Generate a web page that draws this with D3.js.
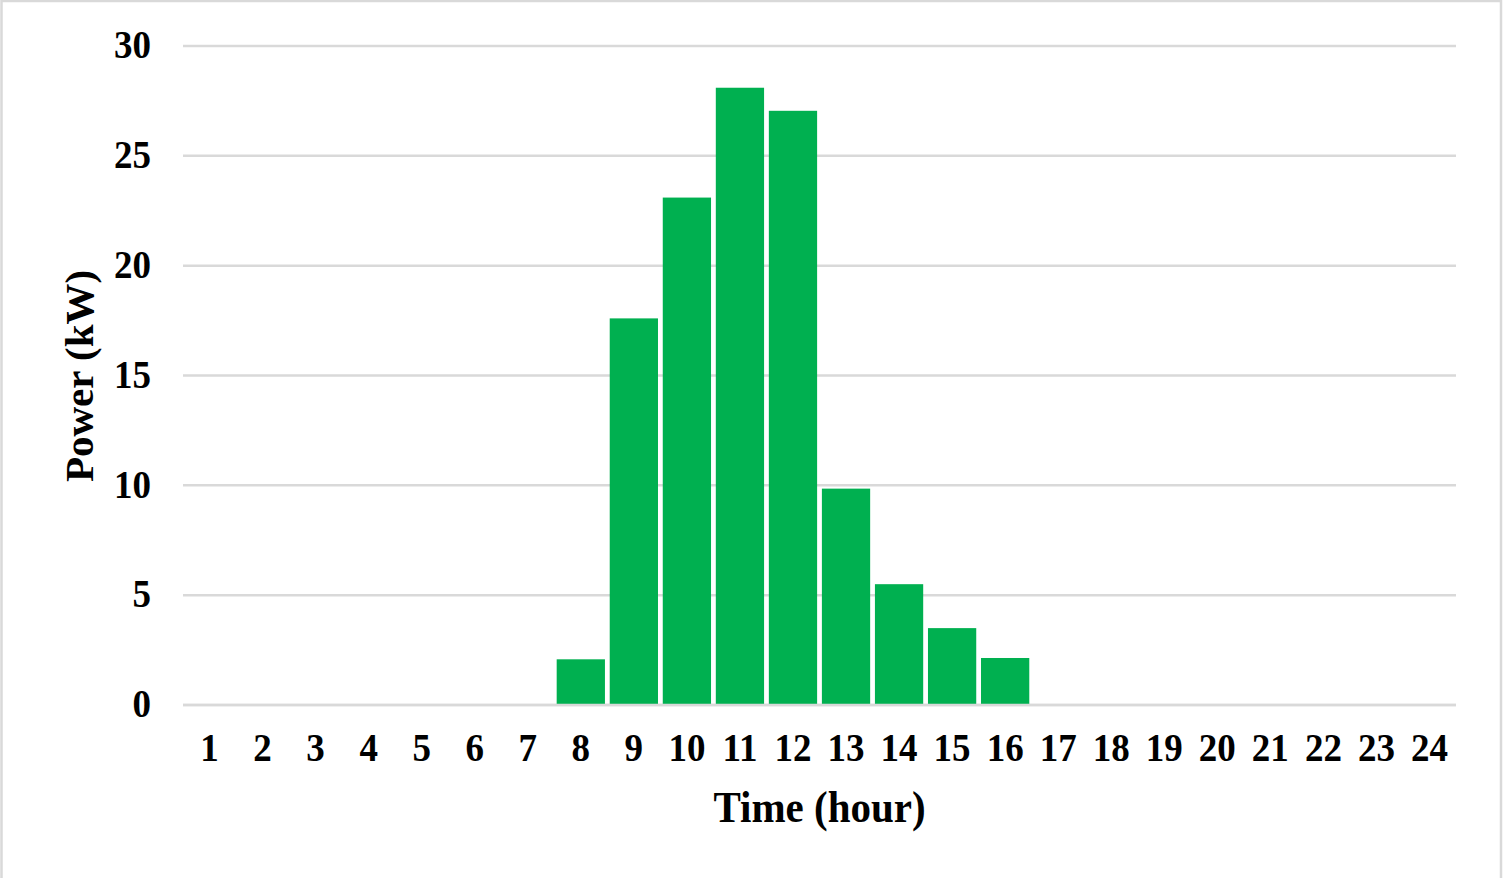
<!DOCTYPE html>
<html>
<head>
<meta charset="utf-8">
<script src="https://cdn.jsdelivr.net/npm/d3@7"></script>
<style>
  html, body { margin: 0; padding: 0; background: #fff; }
  svg { display: block; }
  text { font-family: "Liberation Serif", "Times New Roman", serif; font-weight: bold; fill: #000; }
</style>
</head>
<body>
<svg id="chart" width="1504" height="878"></svg>
<script>
const hours = ["1","2","3","4","5","6","7","8","9","10","11","12","13","14","15","16","17","18","19","20","21","22","23","24"];
const power = [0,0,0,0,0,0,0,2.08,17.6,23.1,28.1,27.05,9.85,5.5,3.5,2.14,0,0,0,0,0,0,0,0];
const yTicks = [0,5,10,15,20,25,30];
const xTitle = "Time (hour)";
const yTitle = "Power (kW)";

const svg = d3.select("#chart");
const W = 1504, H = 878;
const plot = { left: 183, right: 1456, top: 46, bottom: 705 };

svg.append("rect").attr("width", W).attr("height", H).attr("fill", "#fff");
svg.append("rect")
  .attr("x", 1.5).attr("y", 1).attr("width", 1499.5).attr("height", H + 20)
  .attr("fill", "none").attr("stroke", "#d9d9d9").attr("stroke-width", 2.5);

const x = d3.scaleBand().domain(hours).range([plot.left, plot.right]).paddingInner(0.09).paddingOuter(0.045);
const y = d3.scaleLinear().domain([0, 30]).range([plot.bottom, plot.top]);

// gridlines
svg.append("g").selectAll("line").data(yTicks).join("line")
  .attr("x1", plot.left).attr("x2", plot.right)
  .attr("y1", d => y(d)).attr("y2", d => y(d))
  .attr("stroke", "#d9d9d9").attr("stroke-width", 2.5);

// bars
svg.append("g").selectAll("rect").data(hours.map((h, i) => ({ h, v: power[i] })).filter(d => d.v > 0)).join("rect")
  .attr("x", d => x(d.h)).attr("width", x.bandwidth())
  .attr("y", d => y(d.v)).attr("height", d => y(0) - y(d.v))
  .attr("fill", "#00b050");

// baseline
svg.append("line").attr("x1", plot.left).attr("x2", plot.right)
  .attr("y1", y(0)).attr("y2", y(0)).attr("stroke", "#d9d9d9").attr("stroke-width", 2.5);

const sy = 1.07;
// y tick labels
svg.append("g").selectAll("text").data(yTicks).join("text")
  .attr("transform", d => `translate(151,${y(d)}) scale(1,${sy})`)
  .attr("text-anchor", "end").attr("dy", "0.31em")
  .style("font-size", "37px").text(d => d);

// x tick labels
svg.append("g").selectAll("text").data(hours).join("text")
  .attr("transform", d => `translate(${x(d) + x.bandwidth() / 2},747.5) scale(1,${sy})`)
  .attr("text-anchor", "middle").attr("dy", "0.33em")
  .style("font-size", "37px").text(d => d);

// axis titles
svg.append("text")
  .attr("transform", `translate(${(plot.left + plot.right) / 2},822) scale(1,${sy})`)
  .attr("text-anchor", "middle").style("font-size", "41px").text(xTitle);

svg.append("text")
  .attr("transform", `translate(93,${(plot.top + plot.bottom) / 2 + 0.5}) rotate(-90)`)
  .attr("text-anchor", "middle").style("font-size", "41px").text(yTitle);
</script>
</body>
</html>
